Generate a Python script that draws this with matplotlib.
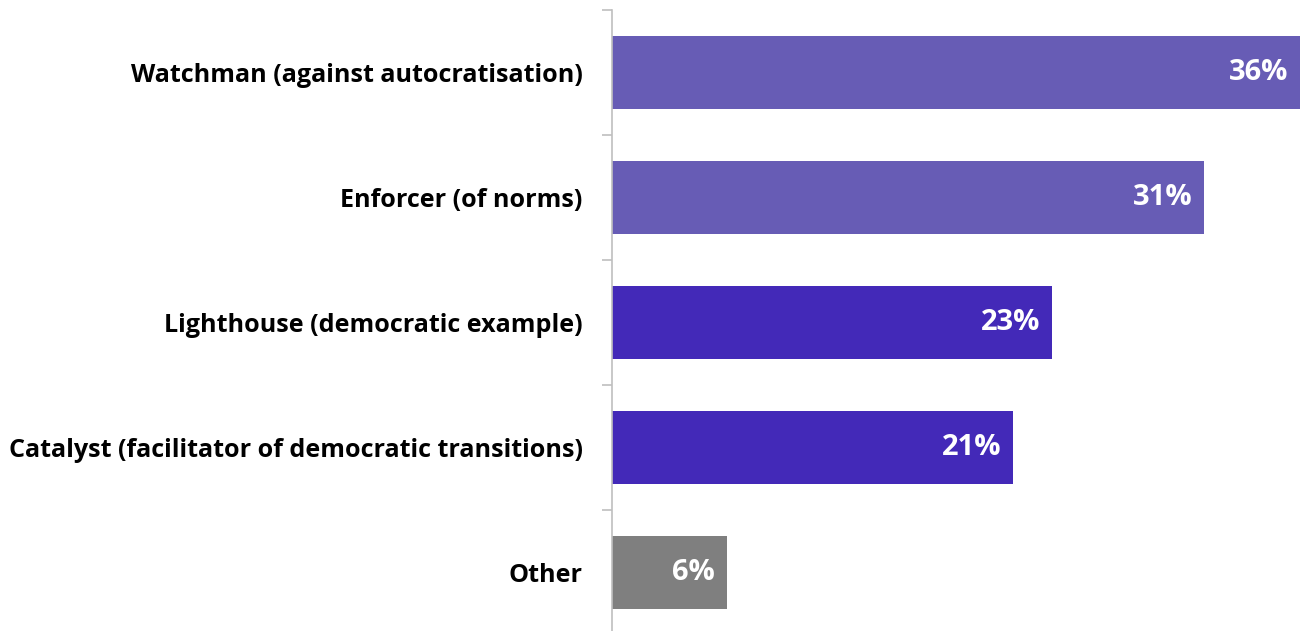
import matplotlib
matplotlib.use("Agg")
import matplotlib.pyplot as plt

categories = [
    "Watchman (against autocratisation)",
    "Enforcer (of norms)",
    "Lighthouse (democratic example)",
    "Catalyst (facilitator of democratic transitions)",
    "Other",
]
values = [36, 31, 23, 21, 6]
colors = ["#675CB5", "#675CB5", "#4329B8", "#4329B8", "#7F7F7F"]

W, H = 1301, 631
fig = plt.figure(figsize=(W / 100, H / 100), dpi=100)
left, right = 612 / W, 1300 / W
top, bottom = 1 - 10 / H, 1 - 635 / H
ax = fig.add_axes([left, bottom, right - left, top - bottom])

y = list(range(len(categories)))
bars = ax.barh(y, values, height=0.58, color=colors, zorder=2)
ax.set_xlim(0, 36)
ax.set_ylim(len(categories) - 0.5, -0.5)

for b, v in zip(bars, values):
    ax.text(b.get_width() - 0.6, b.get_y() + b.get_height() / 2, f"{v}%",
            ha="right", va="center", color="white", fontsize=21,
            fontweight="bold", family="Open Sans")

ax.set_yticks(y)
ax.set_yticklabels(categories, fontsize=18.1, fontweight="bold", family="Open Sans")
ax.tick_params(axis="y", length=0, pad=21)
# boundary ticks between category bands
ax.set_yticks([i - 0.5 for i in range(len(categories) + 1)], minor=True)
ax.tick_params(axis="y", which="minor", length=7.5, color="#BFBFBF", width=1.2)
ax.set_xticks([])
for s in ["top", "right", "bottom"]:
    ax.spines[s].set_visible(False)
ax.spines["left"].set_color("#BFBFBF")
ax.spines["left"].set_linewidth(1.2)

fig.savefig("out.png", dpi=100)
